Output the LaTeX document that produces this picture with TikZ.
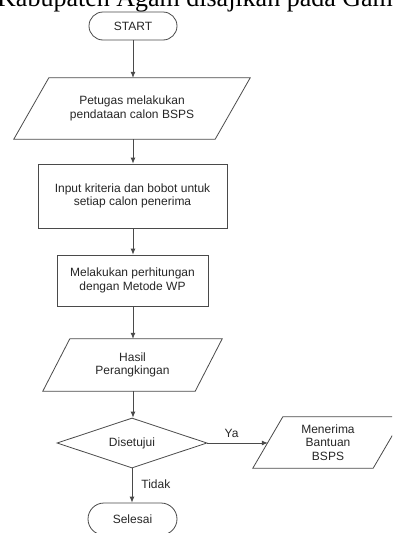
\documentclass[tikz,border=0pt]{standalone}
\usepackage{fontspec}
\setmainfont{Liberation Sans}
\newfontfamily\serifhead{Liberation Serif}
\usetikzlibrary{shapes.geometric,arrows.meta}
\definecolor{lineg}{HTML}{4A4A4A}
\definecolor{txtg}{HTML}{262626}
\tikzset{
  every node/.style={text=txtg, font=\fontsize{12}{13.5}\selectfont, align=center, inner sep=0pt},
  term/.style={draw=lineg, line width=0.8pt, rounded corners=14pt, minimum width=88pt, minimum height=28pt},
  procbox/.style={draw=lineg, line width=0.8pt, rectangle},
  parabox/.style={rectangle},
  decbox/.style={draw=lineg, line width=0.8pt, diamond, aspect=3},
  arr/.style={draw=lineg, line width=0.8pt, -{Latex[length=6pt,width=5pt]}},
  lbl/.style={font=\fontsize{12}{13.5}\selectfont},
}
\newcommand{\drawpara}[2]{%
  \draw[draw=lineg, line width=0.8pt] (#1.south west) -- ([xshift=-#2]#1.south east) -- (#1.north east) -- ([xshift=#2]#1.north west) -- cycle;}
\begin{document}
\begin{tikzpicture}[x=1pt,y=-1pt]
\useasboundingbox (0,0) rectangle (392,533);
\begin{scope}
\clip (0,0) rectangle (392,533);
\node[anchor=base west, font=\fontsize{26}{26}\selectfont\serifhead, text=black] (head) at (-3,6) {Kabupaten Agam disajikan pada Gam};

\node[term] (start) at (133,26) {START};
\node[parabox, minimum width=236pt, minimum height=61pt] (p1) at (132,108.5) {Petugas melakukan\\pendataan calon BSPS};
\drawpara{p1}{35pt}
\node[procbox, minimum width=189pt, minimum height=64pt] (r2) at (132.5,196) {Input kriteria dan bobot untuk\\setiap calon penerima};
\node[procbox, minimum width=151pt, minimum height=51pt] (r3) at (132.5,280.5) {Melakukan perhitungan\\dengan Metode WP};
\node[parabox, minimum width=179pt, minimum height=52pt] (p2) at (132.5,365) {Hasil\\Perangkingan};
\drawpara{p2}{27pt}
\node[decbox, minimum width=150pt, minimum height=50pt] (d) at (132,443) {Disetujui};
\node[parabox, minimum width=150pt, minimum height=51pt] (p3) at (328,442.5) {Menerima\\Bantuan\\BSPS};
\drawpara{p3}{30pt}
\node[term, minimum width=89pt, minimum height=32pt, rounded corners=16pt] (end) at (132.5,519) {Selesai};

\draw[arr] (start.south) -- (start.south |- p1.north);
\draw[arr] (p1.south -| start.south) -- (start.south |- r2.north);
\draw[arr] (r2.south -| start.south) -- (start.south |- r3.north);
\draw[arr] (r3.south -| start.south) -- (start.south |- p2.north);
\draw[arr] (p2.south -| start.south) -- (start.south |- d.north);
\draw[arr] (d.east) -- ([xshift=15pt]p3.west |- d.east) node[pos=0.4, above=5pt, lbl] (ya) {Ya};
\draw[arr] (d.south) -- (d.south |- end.north) node[pos=0.45, right=9pt, lbl] (tidak) {Tidak};
\end{scope}
\end{tikzpicture}
\end{document}
